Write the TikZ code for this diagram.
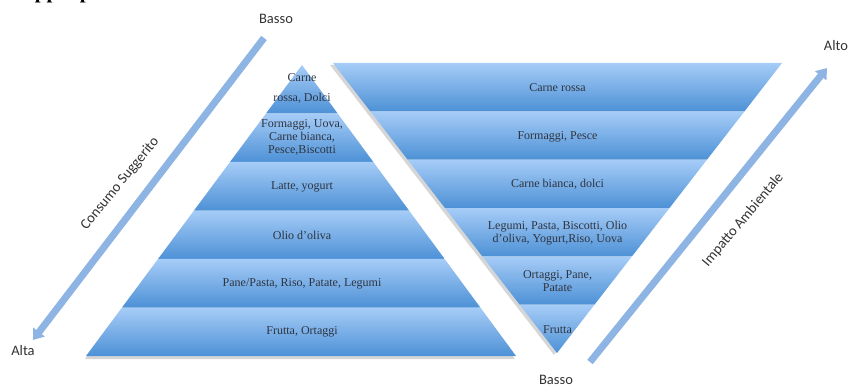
\documentclass[tikz,border=0pt]{standalone}
\usepackage{fontspec}
\setmainfont{Liberation Serif}
\newfontfamily\labfont{Carlito}
\usetikzlibrary{calc,arrows.meta}
\definecolor{bandtop}{HTML}{A6CCF7}
\definecolor{bandbot}{HTML}{4D91D6}
\definecolor{arrowblue}{HTML}{8DB4E2}
\definecolor{txt}{HTML}{2E3440}
\begin{document}
\begin{tikzpicture}[x=1pt,y=-1pt,
  band/.style={top color=bandtop,bottom color=bandbot,draw=none},
  bandtext/.style={font=\fontsize{12}{13}\selectfont, text=txt, align=center, inner sep=0pt},
  axisline/.style={draw=arrowblue, line width=7pt, -{Triangle[width=14pt,length=10pt]}},
  axislabel/.style={font=\labfont\fontsize{14.5}{16}\selectfont, text=black!80, inner sep=0pt},
  shadowfill/.style={fill=black, opacity=0.16}]
\useasboundingbox (0,0) rectangle (848,385);

% title (cut off at the top edge)
\node[font=\bfseries\fontsize{21}{24}\selectfont, anchor=base west, inner sep=0pt] (title) at (9,-1.5) {Doppia piramide};

% left pyramid
\coordinate (LA) at (302,65);
\coordinate (LL) at (86,356);
\coordinate (LR) at (516,356);
\fill[shadowfill] ($(LA)+(-1,2)$) -- ($(LL)+(-1,3)$) -- ($(LR)+(-1,3)$) -- cycle;
\foreach \i in {0,...,5} {
  \pgfmathsetmacro\ta{\i/6}
  \pgfmathsetmacro\tb{(\i+1)/6}
  \shade[band] ($(LA)!\ta!(LL)$) -- ($(LA)!\tb!(LL)$) -- ($(LA)!\tb!(LR)$) -- ($(LA)!\ta!(LR)$) -- cycle;
}

% right (inverted) pyramid
\coordinate (RL) at (333,63);
\coordinate (RR) at (782,63);
\coordinate (RV) at (557,353);
\fill[shadowfill] ($(RL)+(-3,2)$) -- ($(RR)+(-3,2)$) -- ($(RV)+(-3,2)$) -- cycle;
\foreach \i in {0,...,5} {
  \pgfmathsetmacro\ta{\i/6}
  \pgfmathsetmacro\tb{(\i+1)/6}
  \shade[band] ($(RL)!\ta!(RV)$) -- ($(RL)!\tb!(RV)$) -- ($(RR)!\tb!(RV)$) -- ($(RR)!\ta!(RV)$) -- cycle;
}

% left pyramid texts
\node[bandtext] (l1) at (302,88.5) {Carne\\[7pt]rossa, Dolci};
\node[bandtext] (l2) at (302,137) {Formaggi, Uova,\\Carne bianca,\\Pesce,Biscotti};
\node[bandtext] (l3) at (302,186.5) {Latte, yogurt};
\node[bandtext] (l4) at (302,235) {Olio d'oliva};
\node[bandtext] (l5) at (302,283.5) {Pane/Pasta, Riso, Patate, Legumi};
\node[bandtext] (l6) at (302,332) {Frutta, Ortaggi};

% right pyramid texts
\node[bandtext] (r1) at (557.5,88) {Carne rossa};
\node[bandtext] (r2) at (557.5,136.5) {Formaggi, Pesce};
\node[bandtext] (r3) at (557.5,184.5) {Carne bianca, dolci};
\node[bandtext] (r4) at (557.5,233) {Legumi, Pasta, Biscotti, Olio\\d'oliva, Yogurt,Riso, Uova};
\node[bandtext] (r5) at (557.5,281.5) {Ortaggi, Pane,\\Patate};
\node[bandtext] (r6) at (557.5,330) {Frutta};

% left axis
\node[axislabel] (basso1) at (276,19) {Basso};
\node[axislabel] (alta) at (23,351) {Alta};
\coordinate (cs) at (264,38);
\coordinate (ce) at (33,340);
\draw[axisline] (cs) -- (ce);
\node[axislabel, rotate=50.7] (consumo) at (120,183.5) {Consumo Suggerito};

% right axis
\node[axislabel] (alto) at (836,46) {Alto};
\node[axislabel] (basso2) at (556,380) {Basso};
\coordinate (is) at (590,362);
\coordinate (ie) at (827,68);
\draw[axisline] (is) -- (ie);
\node[axislabel, rotate=50] (impatto) at (743,220) {Impatto Ambientale};
\end{tikzpicture}
\end{document}
